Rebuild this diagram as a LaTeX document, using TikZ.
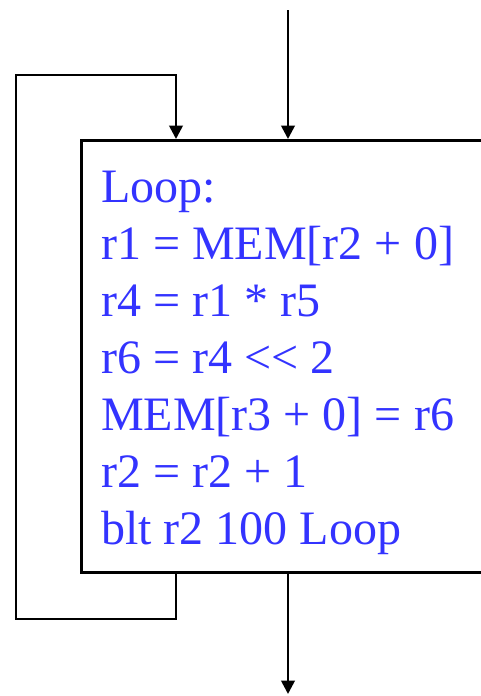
\documentclass[tikz,border=0pt]{standalone}
\usepackage{fontspec}
\setmainfont{Liberation Serif}
\usetikzlibrary{arrows.meta,calc}
\definecolor{codeblue}{RGB}{51,51,255}
\tikzset{
  conn/.style={line width=2pt},
  arr/.style={conn,-{Triangle[length=10pt,width=10pt]}},
  blockbox/.style={draw,line width=2pt,minimum width=307.5pt,minimum height=324pt,inner sep=0pt,anchor=north west},
  code/.style={text=codeblue,font=\fontsize{36pt}{42.75pt}\selectfont,align=left,anchor=base west,inner sep=0pt}
}
\begin{document}
\begin{tikzpicture}[x=0.75pt,y=-0.75pt]
\useasboundingbox (0,0) rectangle (480,696);
\node[blockbox] (box) at (80,139) {};
\node[code] (txt) at (101,544) {Loop:\\r1 = MEM[r2 + 0]\\r4 = r1 * r5\\r6 = r4 {<}{<} 2\\MEM[r3 + 0] = r6\\r2 = r2 + 1\\blt r2 100 Loop};
\coordinate (in) at (288,10);
\coordinate (out) at (288,694);
\coordinate (bl) at (176,571);
\coordinate (tl) at (176,139);
\draw[arr] (in) -- (in |- box.north);
\draw[arr] (out |- box.south) -- (out);
\draw[arr] (bl) -- (176,619) -- (16,619) -- (16,75) -- (176,75) -- (tl);
\end{tikzpicture}
\end{document}
